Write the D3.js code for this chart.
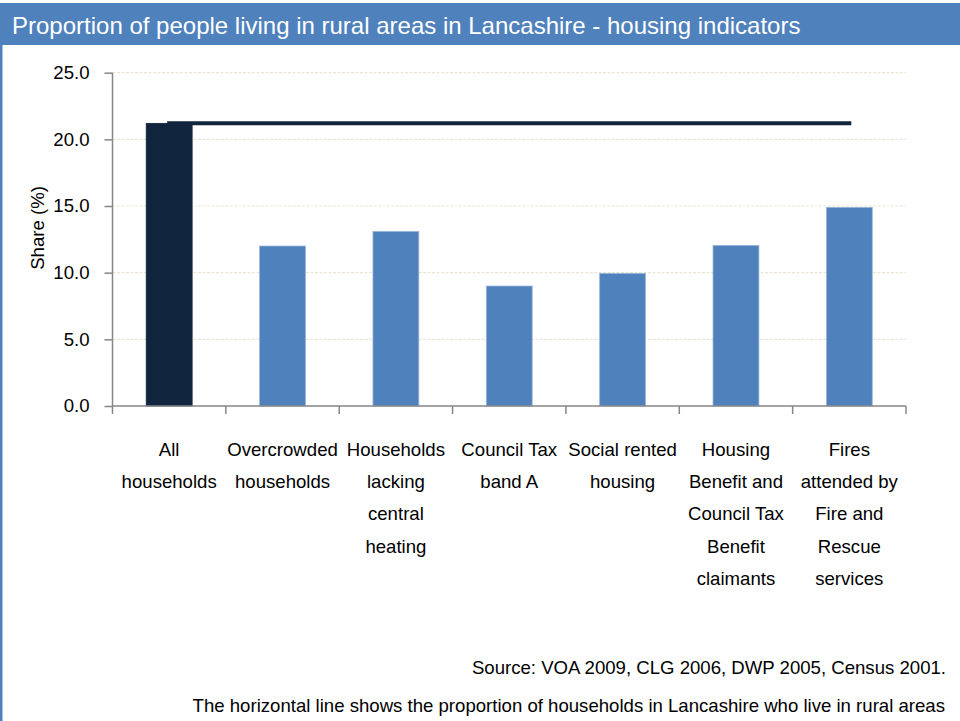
<!DOCTYPE html>
<html>
<head>
<meta charset="utf-8">
<script src="https://cdn.jsdelivr.net/npm/d3@7"></script>
<style>
  html, body { margin: 0; padding: 0; background: #fff; }
  svg { display: block; font-family: "Liberation Sans", Arial, sans-serif; }
</style>
</head>
<body>
<svg id="chart" width="960" height="721"></svg>
<script>
// Housing indicators: share of each group living in rural areas (%)
const categories = [
  ["All", "households"],
  ["Overcrowded", "households"],
  ["Households", "lacking", "central", "heating"],
  ["Council Tax", "band A"],
  ["Social rented", "housing"],
  ["Housing", "Benefit and", "Council Tax", "Benefit", "claimants"],
  ["Fires", "attended by", "Fire and", "Rescue", "services"]
];
const shareValues = [21.2, 12.0, 13.1, 9.0, 9.95, 12.05, 14.9];
// Reference line: proportion of all Lancashire households living in rural areas
const lancashireLine = [21.2, 21.2, 21.2, 21.2, 21.2, 21.2, 21.2];
const yTicks = [0, 5, 10, 15, 20, 25];

const titleText = "Proportion of people living in rural areas in Lancashire - housing indicators";
const sourceText = "Source: VOA 2009, CLG 2006, DWP 2005, Census 2001.";
const noteText = "The horizontal line shows the proportion of households in Lancashire who live in rural areas";

const svg = d3.select("#chart");
const W = 960, H = 721;
const FS = 18.6;
const plot = { left: 112.5, right: 906, top: 72.7, bottom: 406 };

// Header band and left frame edge
svg.append("rect").attr("x", 0).attr("y", 3).attr("width", W).attr("height", 42).attr("fill", "#4F81BD");
svg.append("rect").attr("x", 0).attr("y", 45).attr("width", 2.5).attr("height", H - 45).attr("fill", "#4F81BD");
svg.append("text").attr("x", 12).attr("y", 34)
  .attr("fill", "#fff").attr("font-size", 24).text(titleText);

const keys = d3.range(categories.length);
const x = d3.scaleBand().domain(keys).range([plot.left, plot.right]).paddingInner(0).paddingOuter(0);
const y = d3.scaleLinear().domain([0, 25]).range([plot.bottom, plot.top]);
const barW = x.bandwidth() * 0.405;

// Dashed gridlines
svg.append("g").selectAll("line").data(yTicks.filter(d => d > 0)).join("line")
  .attr("x1", plot.left).attr("x2", plot.right)
  .attr("y1", d => y(d)).attr("y2", d => y(d))
  .attr("stroke", "#E9E6D3").attr("stroke-width", 1.2).attr("stroke-dasharray", "3,1.5");

// Bars
svg.append("g").selectAll("rect").data(shareValues).join("rect")
  .attr("x", (d, i) => x(i) + (x.bandwidth() - barW) / 2)
  .attr("y", d => y(d))
  .attr("width", barW)
  .attr("height", d => y(0) - y(d))
  .attr("fill", (d, i) => i === 0 ? "#10243E" : "#4F81BD")
  .attr("stroke", (d, i) => i === 0 ? "#10243E" : "#9DB7DA")
  .attr("stroke-width", 0.8);

// Y axis
const yAxis = d3.axisLeft(y).tickValues(yTicks).tickFormat(d3.format(".1f"))
  .tickSize(8).tickPadding(15);
const gy = svg.append("g").attr("transform", `translate(${plot.left},0)`).call(yAxis);
gy.select(".domain").attr("stroke", "#868686").attr("stroke-width", 1.5).attr("d", `M0,${plot.bottom}V${plot.top}`);
gy.selectAll(".tick line").attr("stroke", "#868686").attr("stroke-width", 1.5);
gy.selectAll(".tick text").attr("font-size", FS).attr("fill", "#000")
  .attr("font-family", "Liberation Sans, Arial, sans-serif");

// X axis with tick marks at category boundaries
const gx = svg.append("g");
gx.append("line").attr("x1", plot.left).attr("x2", plot.right)
  .attr("y1", plot.bottom).attr("y2", plot.bottom)
  .attr("stroke", "#868686").attr("stroke-width", 1.5);
const bounds = keys.map(k => x(k)).concat([plot.right]);
gx.selectAll("line.tk").data(bounds).join("line").attr("class", "tk")
  .attr("x1", d => d).attr("x2", d => d)
  .attr("y1", plot.bottom).attr("y2", plot.bottom + 8)
  .attr("stroke", "#868686").attr("stroke-width", 1.5);

// Category labels (multi-line)
const lab = svg.append("g").selectAll("text").data(categories).join("text")
  .attr("text-anchor", "middle").attr("font-size", FS).attr("fill", "#000");
lab.each(function(lines, i) {
  const cx = x(i) + x.bandwidth() / 2;
  d3.select(this).selectAll("tspan").data(lines).join("tspan")
    .attr("x", cx).attr("y", (d, j) => 455.5 + j * 32.4).text(d => d);
});

// Y axis title
svg.append("text")
  .attr("transform", `translate(44,228) rotate(-90)`)
  .attr("text-anchor", "middle").attr("font-size", FS).attr("fill", "#000")
  .text("Share (%)");

// Horizontal reference line across the category centres
const line = d3.line().x((d, i) => x(i) + x.bandwidth() / 2).y(d => y(d));
svg.append("path").datum(lancashireLine)
  .attr("d", line).attr("fill", "none")
  .attr("stroke", "#10243E").attr("stroke-width", 4).attr("stroke-linecap", "square");

// Footnotes
svg.append("text").attr("x", 946).attr("y", 673.5).attr("text-anchor", "end")
  .attr("font-size", FS).attr("fill", "#000").text(sourceText);
svg.append("text").attr("x", 945).attr("y", 712).attr("text-anchor", "end")
  .attr("font-size", FS).attr("fill", "#000").text(noteText);
</script>
</body>
</html>
